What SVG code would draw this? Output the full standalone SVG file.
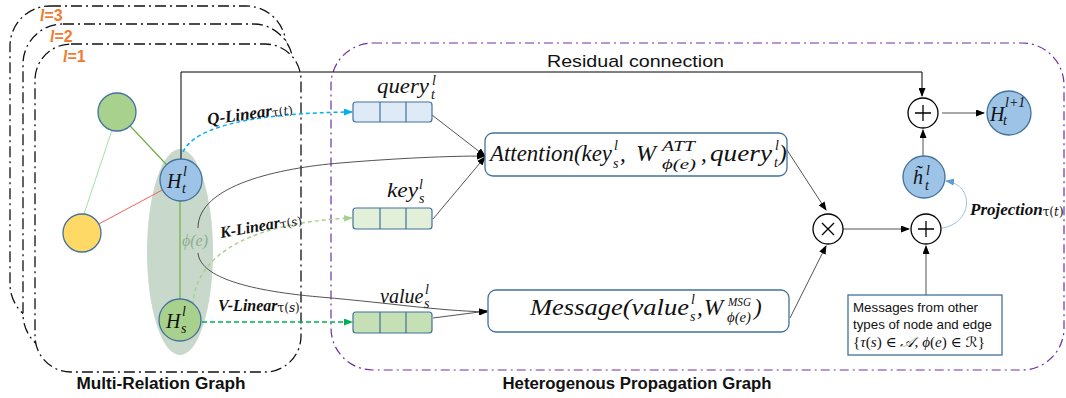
<svg xmlns="http://www.w3.org/2000/svg" width="1066" height="398" viewBox="0 0 1066 398">
<defs>
<style>
.lay{fill:#fff;stroke:#111;stroke-width:1.3;stroke-dasharray:11 4 2 4}
.hpg{fill:none;stroke:#7030A0;stroke-width:1.2;stroke-dasharray:9 4 2 4}
.node{stroke:#41719C;stroke-width:1.3}
.blue{fill:#9DC3E6}.green{fill:#A9D18E}.yellow{fill:#FFD966}
.vec{stroke:#41719C;stroke-width:1.2}
.box{fill:#fff;stroke:#41719C;stroke-width:1.3}
.op{fill:#fff;stroke:#000;stroke-width:1.3}
.m{font-family:"Liberation Serif","DejaVu Serif",serif;font-style:italic;fill:#111}
.s{font-family:"Liberation Sans","DejaVu Sans",sans-serif;fill:#111}
.lbl{font-family:"Liberation Serif","DejaVu Serif",serif;font-style:italic;font-weight:bold;fill:#111;font-size:17px}
.sub{font-family:"DejaVu Serif",serif;font-style:normal;font-weight:normal;font-size:12px}
.ln{fill:none;stroke:#404040;stroke-width:0.9}
.blk{fill:none;stroke:#000;stroke-width:1}
.lyr{font-family:"Liberation Sans",sans-serif;font-weight:bold;fill:#ED7D31;font-size:16px}
</style>
<marker id="ab" markerUnits="userSpaceOnUse" markerWidth="9" markerHeight="7" refX="8" refY="3.5" orient="auto"><path d="M0,0 L9,3.5 L0,7 z" fill="#000"/></marker>
<marker id="ac" markerUnits="userSpaceOnUse" markerWidth="9" markerHeight="7" refX="8" refY="3.5" orient="auto"><path d="M0,0 L9,3.5 L0,7 z" fill="#00B0F0"/></marker>
<marker id="alg" markerUnits="userSpaceOnUse" markerWidth="9" markerHeight="7" refX="8" refY="3.5" orient="auto"><path d="M0,0 L9,3.5 L0,7 z" fill="#A9D18E"/></marker>
<marker id="ag" markerUnits="userSpaceOnUse" markerWidth="9" markerHeight="7" refX="8" refY="3.5" orient="auto"><path d="M0,0 L9,3.5 L0,7 z" fill="#00B050"/></marker>
<marker id="alb" markerUnits="userSpaceOnUse" markerWidth="9" markerHeight="7" refX="8" refY="3.5" orient="auto"><path d="M0,0 L9,3.5 L0,7 z" fill="#5B9BD5"/></marker>
</defs>

<g id="layers">
<rect class="lay" x="10" y="6" width="276" height="318" rx="40"/>
<rect class="lay" x="23" y="24" width="270" height="330" rx="40"/>
<rect class="lay" x="35" y="44" width="266" height="328" rx="36"/>
<text class="lyr" x="40" y="21"><tspan font-style="italic" font-family="Liberation Serif">l</tspan>=3</text>
<text class="lyr" x="50" y="42"><tspan font-style="italic" font-family="Liberation Serif">l</tspan>=2</text>
<text class="lyr" x="63" y="62"><tspan font-style="italic" font-family="Liberation Serif">l</tspan>=1</text>
</g>

<g id="hpg-frame">
<rect class="hpg" x="331" y="43" width="733" height="327" rx="42"/>
</g>

<g id="relation-ellipse">
<ellipse cx="180" cy="252" rx="33" ry="103" fill="#C8D9CB"/>
</g>

<g id="graph-edges">
<line x1="117" y1="112" x2="181" y2="180" stroke="#70AD47" stroke-width="1.2"/>
<line x1="112" y1="130" x2="84" y2="214" stroke="#9EE59E" stroke-width="1"/>
<line x1="82" y1="233" x2="181" y2="180" stroke="#F0625A" stroke-width="1"/>
<line x1="180" y1="200" x2="180" y2="300" stroke="#70AD47" stroke-width="1.2"/>
<text class="m" x="182" y="246" font-size="16" style="fill:#8BAF8A">ϕ(e)</text>
</g>

<g id="connectors">
<path class="blk" d="M181,159 V72 H922 V96" stroke-width="1.5" marker-end="url(#ab)"/>
<path d="M183,152 C195,125 260,113 352,112" fill="none" stroke="#00B0F0" stroke-width="1.5" stroke-dasharray="4 3" marker-end="url(#ac)"/>
<path d="M193,305 C195,250 260,222 352,218" fill="none" stroke="#A9D18E" stroke-width="1.5" stroke-dasharray="4 3" marker-end="url(#alg)"/>
<path d="M202,322 H352" fill="none" stroke="#00B050" stroke-width="1.5" stroke-dasharray="5 3" marker-end="url(#ag)"/>
<path class="ln" d="M432,115 L485,156" marker-end="url(#ab)"/>
<path class="ln" d="M433,219 L485,157" marker-end="url(#ab)"/>
<path class="ln" d="M198,228 C198,185 280,168 340,163 S450,156 485,156" marker-end="url(#ab)"/>
<path class="ln" d="M198,253 C200,275 240,290 320,297 S430,310 487,312" marker-end="url(#ab)"/>
<path class="ln" d="M433,318 L487,311" marker-end="url(#ab)"/>
<path class="ln" d="M787,150 L826,210" marker-end="url(#ab)"/>
<path class="ln" d="M790,318 L826,246" marker-end="url(#ab)"/>
<path class="ln" d="M843,229 L909,229" marker-end="url(#ab)"/>
<path class="ln" d="M926,295 V246" marker-end="url(#ab)"/>
<path class="ln" d="M923,156 V130" marker-end="url(#ab)"/>
<path class="ln" d="M942,113 L984,113" marker-end="url(#ab)"/>
<path d="M942,228 C972,224 976,185 946,181" fill="none" stroke="#9DC3E6" stroke-width="1" marker-end="url(#alb)"/>
</g>

<g id="edge-labels">
<text class="lbl" transform="translate(208,125) rotate(-8)">Q-Linear<tspan class="sub" dy="1">τ(<tspan font-style="italic">t</tspan>)</tspan></text>
<text class="lbl" transform="translate(221,238) rotate(-10)" style="font-size:16px">K-Linear<tspan class="sub" dy="1">τ(<tspan font-style="italic">s</tspan>)</tspan></text>
<text class="lbl" x="218" y="311" style="font-size:16px">V-Linear<tspan class="sub" dy="1">τ(<tspan font-style="italic">s</tspan>)</tspan></text>
<text class="lbl" x="970" y="215">Projection<tspan class="sub" dy="1">τ(<tspan font-style="italic">t</tspan>)</tspan></text>
<text class="s" x="547" y="67" font-size="17" textLength="177" lengthAdjust="spacingAndGlyphs">Residual connection</text>
</g>

<g id="node-green-top"><circle class="node green" cx="117" cy="112" r="19"/></g>
<g id="node-yellow"><circle class="node yellow" cx="82" cy="233" r="19"/></g>
<g id="node-Ht">
<circle class="node blue" cx="181" cy="180" r="21"/>
<text class="m" font-size="20"><tspan x="167" y="188">H</tspan><tspan x="183" y="176" font-size="14">l</tspan><tspan x="182" y="193" font-size="14">t</tspan></text>
</g>
<g id="node-Hs">
<circle class="node green" cx="180" cy="320" r="21"/>
<text class="m" font-size="20"><tspan x="166" y="328">H</tspan><tspan x="182" y="316" font-size="14">l</tspan><tspan x="181" y="333" font-size="14">s</tspan></text>
</g>

<g id="vec-query">
<rect class="vec" x="353" y="102" width="79" height="20" rx="3" fill="#DEEBF7"/>
<line class="vec" x1="380" y1="102" x2="380" y2="122"/><line class="vec" x1="406" y1="102" x2="406" y2="122"/>
<text class="m" font-size="22"><tspan x="377" y="93" textLength="52" lengthAdjust="spacingAndGlyphs">query</tspan><tspan x="432" y="85" font-size="14">l</tspan><tspan x="431" y="99" font-size="14">t</tspan></text>
</g>
<g id="vec-key">
<rect class="vec" x="353" y="208" width="79" height="21" rx="3" fill="#E2F0D9"/>
<line class="vec" x1="380" y1="208" x2="380" y2="229"/><line class="vec" x1="406" y1="208" x2="406" y2="229"/>
<text class="m" font-size="22"><tspan x="387" y="197" textLength="31" lengthAdjust="spacingAndGlyphs">key</tspan><tspan x="419" y="189" font-size="14">l</tspan><tspan x="419" y="203" font-size="14">s</tspan></text>
</g>
<g id="vec-value">
<rect class="vec" x="353" y="312" width="79" height="21" rx="3" fill="#C5E0B4"/>
<line class="vec" x1="380" y1="312" x2="380" y2="333"/><line class="vec" x1="406" y1="312" x2="406" y2="333"/>
<text class="m" font-size="20"><tspan x="380" y="303">value</tspan><tspan x="425" y="294" font-size="14">l</tspan><tspan x="424" y="308" font-size="14">s</tspan></text>
</g>

<g id="attention">
<rect class="box" x="485" y="133" width="302" height="43" rx="8"/>
<text class="m" font-size="23"><tspan x="490" y="161" textLength="122" lengthAdjust="spacingAndGlyphs">Attention(key</tspan><tspan x="614" y="150" font-size="14">l</tspan><tspan x="613" y="168" font-size="14">s</tspan><tspan x="620" y="161">,</tspan><tspan x="636" y="161" font-size="24">W</tspan><tspan x="662" y="151" font-size="14" textLength="33" lengthAdjust="spacingAndGlyphs">ATT</tspan><tspan x="662" y="169" font-size="15" textLength="34" lengthAdjust="spacingAndGlyphs">ϕ(e)</tspan><tspan x="701" y="161">,</tspan><tspan x="710" y="161" textLength="62" lengthAdjust="spacingAndGlyphs">query</tspan><tspan x="775" y="150" font-size="14">l</tspan><tspan x="774" y="167" font-size="14">t</tspan><tspan x="779" y="161">)</tspan></text>
</g>

<g id="message">
<rect class="box" x="488" y="290" width="301" height="42" rx="8"/>
<text class="m" font-size="23"><tspan x="530" y="315" textLength="159" lengthAdjust="spacingAndGlyphs">Message(value</tspan><tspan x="691" y="304" font-size="14">l</tspan><tspan x="690" y="321" font-size="14">s</tspan><tspan x="697" y="315">,</tspan><tspan x="704" y="315" font-size="23">W</tspan><tspan x="728" y="306" font-size="13" textLength="23" lengthAdjust="spacingAndGlyphs">MSG</tspan><tspan x="727" y="322" font-size="14" textLength="24" lengthAdjust="spacingAndGlyphs">ϕ(e)</tspan><tspan x="754" y="315">)</tspan></text>
</g>

<g id="otimes">
<circle class="op" cx="828" cy="229" r="15"/>
<path d="M822,223 L834,235 M834,223 L822,235" stroke="#000" stroke-width="1.3"/>
</g>
<g id="oplus-bottom">
<circle class="op" cx="926" cy="229" r="15"/>
<path d="M918,229 H934 M926,221 V237" stroke="#000" stroke-width="1.3"/>
</g>
<g id="oplus-top">
<circle class="op" cx="923" cy="113" r="15"/>
<path d="M915,113 H931 M923,105 V121" stroke="#000" stroke-width="1.3"/>
</g>
<g id="node-htilde">
<circle class="node blue" cx="924" cy="177" r="21"/>
<text class="m" font-size="20"><tspan x="913" y="184">h&#x303;</tspan><tspan x="926" y="175" font-size="14">l</tspan><tspan x="925" y="190" font-size="14">t</tspan></text>
</g>
<g id="node-Hnext">
<circle class="node blue" cx="1009" cy="113" r="22"/>
<text class="m" font-size="20"><tspan x="990" y="121">H</tspan><tspan x="1005" y="107" font-size="14">l+1</tspan><tspan x="1003" y="125" font-size="14">t</tspan></text>
</g>

<g id="messages-box">
<rect x="848" y="295" width="154" height="60" fill="#fff" stroke="#41719C" stroke-width="1.3"/>
<text class="s" x="853" y="312" font-size="13" textLength="125" lengthAdjust="spacingAndGlyphs">Messages from other</text>
<text class="s" x="853" y="329" font-size="13" textLength="139" lengthAdjust="spacingAndGlyphs">types of node and edge</text>
<text x="853" y="347" font-size="14" font-family="Liberation Serif, DejaVu Serif, serif" fill="#111" textLength="132" lengthAdjust="spacingAndGlyphs">{<tspan font-style="italic">τ</tspan>(<tspan font-style="italic">s</tspan>) ∈ <tspan font-family="DejaVu Sans, serif" font-style="italic">𝒜</tspan>, <tspan font-style="italic">ϕ</tspan>(<tspan font-style="italic">e</tspan>) ∈ <tspan font-family="DejaVu Sans, serif">ℛ</tspan>}</text>
</g>

<g id="titles">
<text class="s" x="161" y="389" font-size="16" font-weight="bold" text-anchor="middle" textLength="169" lengthAdjust="spacingAndGlyphs">Multi-Relation Graph</text>
<text class="s" x="637" y="389" font-size="16" font-weight="bold" text-anchor="middle" textLength="269" lengthAdjust="spacingAndGlyphs">Heterogenous Propagation Graph</text>
</g>
</svg>
